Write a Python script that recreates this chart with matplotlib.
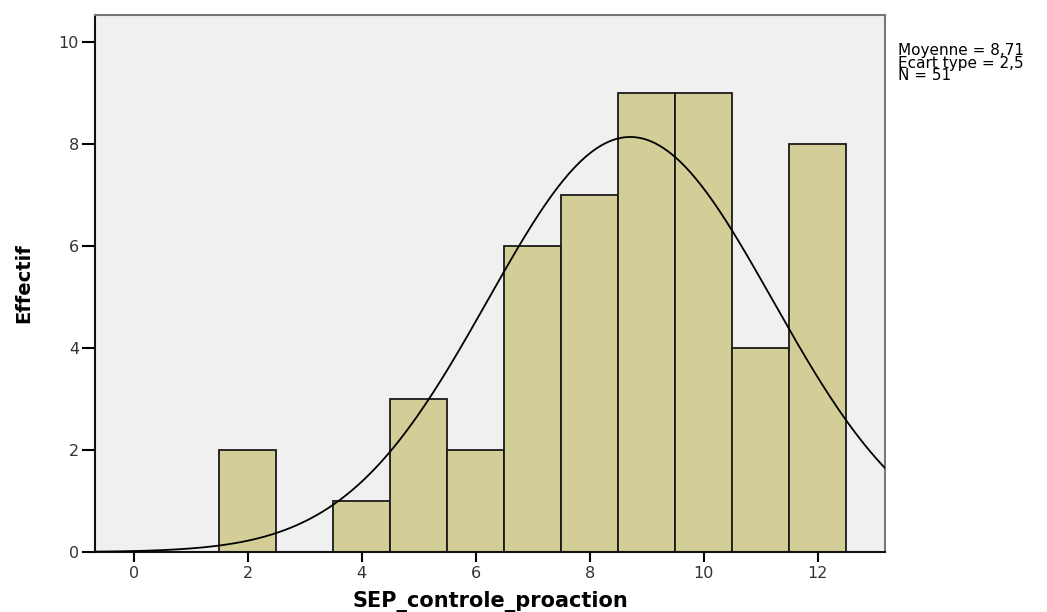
import numpy as np
import matplotlib.pyplot as plt

# histogram of SEP_controle_proaction (bin width 1)
bin_centers = [2, 4, 5, 6, 7, 8, 9, 10, 11, 12]
counts = [2, 1, 3, 2, 6, 7, 9, 9, 4, 8]
mean_val = 8.71
sd_val = 2.5
n_val = 51

fig = plt.figure(figsize=(10.47, 6.12), dpi=100)
ax = fig.add_axes([0.0907, 0.098, 0.7546, 0.8775])
ax.set_facecolor('#F0F0F0')

ax.bar(bin_centers, counts, width=1.0, color='#D3CE97', edgecolor='#1a1a1a',
       linewidth=1.3, zorder=2)

# normal curve scaled to counts
xs = np.linspace(-0.7, 13.2, 400)
ys = n_val * 1.0 / (sd_val * np.sqrt(2 * np.pi)) * np.exp(-0.5 * ((xs - mean_val) / sd_val) ** 2)
ax.plot(xs, ys, color='black', linewidth=1.3, zorder=3)

ax.set_xlim(-0.68, 13.18)
ax.set_ylim(0, 10.53)
ax.set_xticks([0, 2, 4, 6, 8, 10, 12])
ax.set_yticks([0, 2, 4, 6, 8, 10])
ax.tick_params(direction='out', width=1.5, labelsize=11.5, labelcolor='#333333')
ax.tick_params(axis='x', length=7, pad=3)
ax.tick_params(axis='y', length=9.5, pad=2)
for s in ('left', 'bottom'):
    ax.spines[s].set_color('#111111')
    ax.spines[s].set_linewidth(1.5)
for s in ('top', 'right'):
    ax.spines[s].set_color('#777777')
    ax.spines[s].set_linewidth(1.5)

fig.text(0.468, 1 - 607 / 612, 'SEP_controle_proaction', ha='center', va='baseline',
         fontsize=15, fontweight='bold')
ax.set_ylabel('Effectif', fontsize=14, fontweight='bold', labelpad=18,
              family=['Liberation Sans Narrow', 'DejaVu Sans'])

fig.text(898 / 1047, 1 - 43 / 612,
         f'Moyenne = {mean_val:.2f}'.replace('.', ',') + '\n'
         f'Ecart type = {sd_val}'.replace('.', ',') + '\n'
         f'N = {n_val}',
         ha='left', va='top', fontsize=11, linespacing=0.8,
         family=['DejaVu Sans'])

fig.savefig('out.png', dpi=100)
